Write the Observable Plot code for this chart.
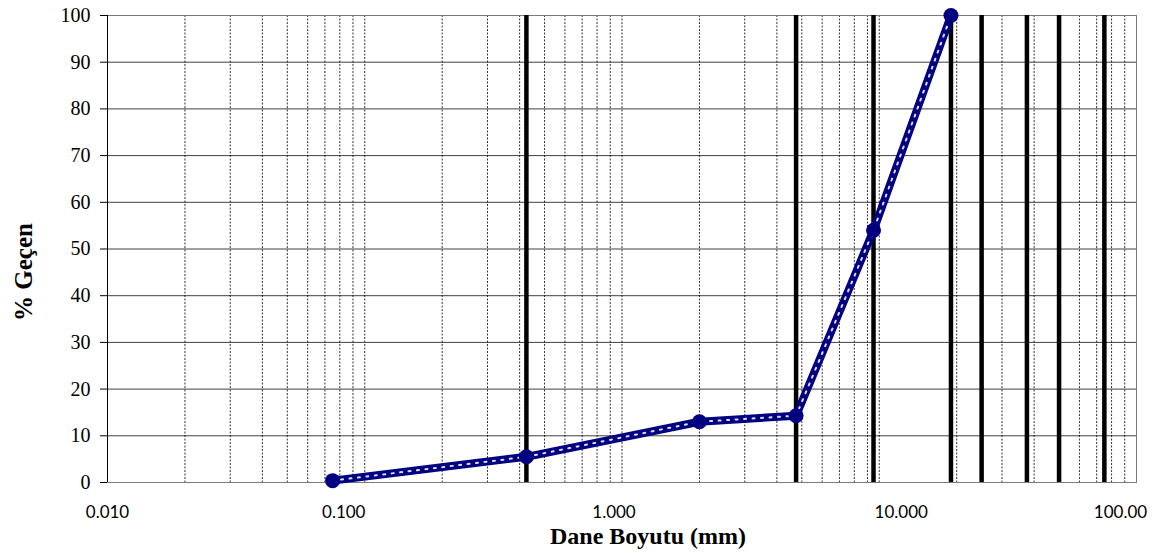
<!DOCTYPE html>
<html>
<head>
<meta charset="utf-8">
<script src="https://cdn.jsdelivr.net/npm/d3@7"></script>
<script src="https://cdn.jsdelivr.net/npm/@observablehq/plot@0.6"></script>
<style>
  html, body { margin: 0; padding: 0; background: #fff; }
  #chart svg { display: block; }
</style>
</head>
<body>
<div id="chart"></div>
<script>
// Grain size distribution (sieve analysis)
const grainSize = [0.075, 0.425, 2.0, 4.75, 9.5, 19];      // mm
const percentPassing = [0.4, 5.5, 13, 14.3, 54, 100];      // %

// Standard sieve openings highlighted with heavy rules (mm)
const sieveSizes = [0.425, 4.75, 9.5, 19, 25, 37.5, 50, 75];

// Axis ticks
const xDecades = [0.01, 0.1, 1, 10, 100];
const xTickLabels = ["0.010", "0.100", "1.000", "10.000", "100.00"];
const yTicks = [0, 10, 20, 30, 40, 50, 60, 70, 80, 90, 100];

const xTitle = "Dane Boyutu (mm)";
const yTitle = "% Geçen";

// Minor log grid: 1..9 within each decade (the left edge is the axis line)
const minorGrid = [];
for (let k = -2; k <= 1; ++k) {
  for (let m = 1; m <= 9; ++m) {
    if (k === -2 && m === 1) continue;
    minorGrid.push(+(m * Math.pow(10, k)).toPrecision(6));
  }
}

const labelOf = new Map(xDecades.map((d, i) => [d, xTickLabels[i]]));
const data = grainSize.map((d, i) => ({size: d, pass: percentPassing[i]}));

const serif = "'Liberation Serif', 'Times New Roman', serif";
const sans = "Lato, 'Liberation Sans', sans-serif";

// horizontal nudge of each decade label relative to its gridline
const labelShift = [0, -21, -8, 22, -16];

const chart = Plot.plot({
  width: 1159,
  height: 553,
  marginLeft: 107,
  marginRight: 23,
  marginTop: 15,
  marginBottom: 71,
  style: {background: "#fff", color: "#000", fontFamily: serif},
  x: {type: "log", domain: [0.01, 100]},
  y: {domain: [0, 100]},
  marks: [
    Plot.gridY(yTicks, {stroke: "#000", strokeOpacity: 0.75, strokeWidth: 1}),
    Plot.gridX(minorGrid, {stroke: "#000", strokeOpacity: 0.8, strokeWidth: 1, strokeDasharray: "2,1.5"}),
    Plot.frame({stroke: "#7a7a7a", strokeWidth: 1}),
    Plot.ruleX([0.01], {stroke: "#000", strokeWidth: 1}),
    Plot.ruleX(sieveSizes, {y1: 0, y2: 100, stroke: "#000", strokeWidth: 4.5}),
    Plot.axisY(yTicks, {
      tickSize: 7, tickPadding: 10, fontSize: 20, fontFamily: serif,
      stroke: "#000", label: null
    }),
    ...xDecades.map((d, i) => Plot.axisX([d], {
      tickSize: 0, tickPadding: 23, fontSize: 17, fontFamily: sans,
      dx: labelShift[i], tickFormat: v => labelOf.get(v), label: null
    })),
    // gradation curve: heavy navy line with a light dotted core
    Plot.line(data, {x: "size", y: "pass", stroke: "#000080", strokeWidth: 8, strokeLinejoin: "round"}),
    Plot.line(data, {x: "size", y: "pass", stroke: "#dcdcf4", strokeWidth: 2, strokeDasharray: "2,6.5"}),
    Plot.dot(data, {x: "size", y: "pass", r: 7.5, fill: "#000080", stroke: null}),
    Plot.text([xTitle], {
      frameAnchor: "bottom", dx: 26, dy: 61, fontSize: 24, fontWeight: "bold",
      fontFamily: serif, fill: "#000"
    }),
    Plot.text([yTitle], {
      frameAnchor: "left", textAnchor: "middle", rotate: -90, dx: -84, dy: 23,
      fontSize: 25, fontWeight: "bold", fontFamily: serif, fill: "#000"
    })
  ]
});

document.getElementById("chart").appendChild(chart);
</script>
</body>
</html>
